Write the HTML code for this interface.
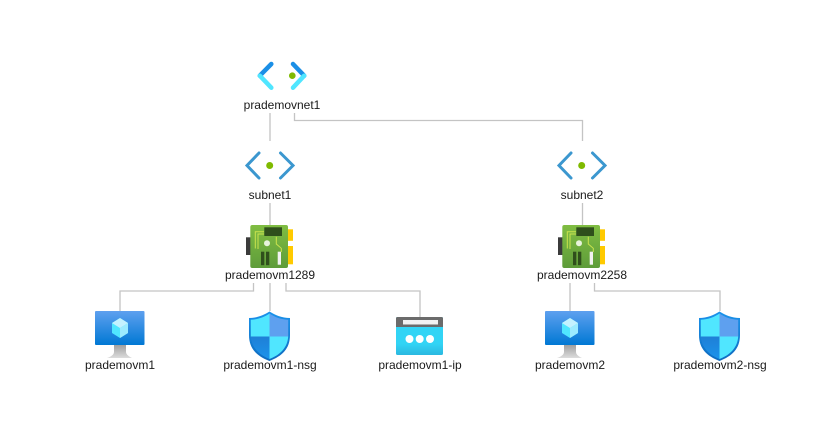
<!DOCTYPE html>
<html>
<head>
<meta charset="utf-8">
<style>
html,body{margin:0;padding:0;background:#fff}
svg{display:block}
text{font-family:"Liberation Sans",sans-serif;font-size:12px;fill:#1a1a1a;text-anchor:middle}
</style>
</head>
<body>
<svg width="815" height="431" viewBox="0 0 815 431" xmlns="http://www.w3.org/2000/svg">
<defs>
<linearGradient id="vmg" x1="0" y1="0" x2="0" y2="1"><stop offset="0" stop-color="#5ea0ef"/><stop offset="1" stop-color="#0078d4"/></linearGradient>
<linearGradient id="stand" x1="0" y1="0" x2="0" y2="1"><stop offset="0" stop-color="#a0a0a0"/><stop offset="1" stop-color="#dcdcdc"/></linearGradient>
<linearGradient id="nicg" x1="0" y1="0" x2="0" y2="1"><stop offset="0" stop-color="#80bd42"/><stop offset="1" stop-color="#5e9c3a"/></linearGradient>
<linearGradient id="shb" x1="0" y1="0" x2="0" y2="1"><stop offset="0" stop-color="#1b93eb"/><stop offset="1" stop-color="#0f6cc0"/></linearGradient>
<linearGradient id="shq" x1="0" y1="0" x2="0" y2="1"><stop offset="0" stop-color="#1f7fd6"/><stop offset="1" stop-color="#1b93eb"/></linearGradient>
<linearGradient id="ipg" x1="0" y1="0" x2="0" y2="1"><stop offset="0" stop-color="#32d4f5"/><stop offset="0.7" stop-color="#32d4f5"/><stop offset="1" stop-color="#2bb8e0"/></linearGradient>
<g id="subnet">
<path d="M-11 -12 L-23 0.500 L-11 13 M10.500 -12 L23 0.500 L10.500 13" fill="none" stroke="#3b97cf" stroke-width="3" stroke-linecap="round"/>
<circle cx="-0.300" cy="0.500" r="3.500" fill="#7fba00"/>
</g>
<g id="nic">
<rect x="-24" y="12.300" width="5" height="17.700" fill="#3b3b3b"/>
<rect x="18" y="4.300" width="5" height="11.500" fill="#ffca00"/>
<rect x="18" y="21" width="5" height="18.300" fill="#ffca00"/>
<rect x="-19.700" y="0" width="37.700" height="43" rx="2" fill="url(#nicg)"/>
<path d="M-14.700 23.500 V6.700 H-6 M-12 24 V9 H-6 M6.300 11.700 V19 L11.300 23.300 V27" fill="none" stroke="#cbe34e" stroke-width="1"/>
<rect x="-5.700" y="2.300" width="17.700" height="8.700" fill="#2f4f1c"/>
<circle cx="-3" cy="18.300" r="3" fill="#e8f3dc"/>
<rect x="-9" y="26.700" width="3.300" height="13.500" fill="#2f4f1c"/>
<rect x="-4" y="26.700" width="3.300" height="13.500" fill="#2f4f1c"/>
<rect x="7.700" y="26.700" width="3.300" height="13" fill="#f2f2f2"/>
</g>
<g id="vm">
<rect x="0" y="0" width="49.500" height="34" rx="1" fill="url(#vmg)"/>
<path d="M19 34 H31 V41 C31 44 35 46 37 47 H12 C15 46 19 44 19 41 Z" fill="url(#stand)"/>
<path d="M25 7 L33 12 V22 L25 27 L17 22 V12 Z" fill="#50e6ff"/>
<path d="M25 7 L33 12 L25 17 L17 12 Z" fill="#c3f1ff"/>
<path d="M25 17 L33 12 V22 L25 27 Z" fill="#9cebff"/>
</g>
<g id="shield">
<path d="M20.500 50 C8 45 0 38 0 24 V7 C8 7 15 4 20.500 0.500 C26 4 33 7 41 7 V24 C41 38 33 45 20.500 50 Z" fill="url(#shb)"/>
<path d="M20.500 2.500 C15.500 6 9 8.500 1.800 8.700 V25.500 H20.500 Z" fill="#50e6ff"/>
<path d="M20.500 2.500 C25.500 6 32 8.500 39.200 8.700 V25.500 H20.500 Z" fill="#5ea0ef"/>
<path d="M1.800 25.500 H20.500 V48 C9 43.500 2.500 36 1.800 25.500 Z" fill="url(#shq)"/>
<path d="M39.200 25.500 H20.500 V48 C32 43.500 38.500 36 39.200 25.500 Z" fill="#50e6ff"/>
</g>
</defs>

<g fill="none" stroke="#c4c4c4" stroke-width="1.300">
<path d="M270 113 V141"/>
<path d="M294.500 113 V120.500 H582.500 V141"/>
<path d="M270 203 V225"/>
<path d="M582.500 203 V225"/>
<path d="M253.500 283 V291 H120 V311"/>
<path d="M270 283 V311"/>
<path d="M286 283 V291 H420 V317"/>
<path d="M570 283 V311"/>
<path d="M594.500 283 V291 H720 V311"/>
</g>

<path d="M259.800 75.700 L271.300 64" fill="none" stroke="#1b8fe6" stroke-width="4.500" stroke-linecap="round"/>
<path d="M271.300 87.700 L259.800 75.700" fill="none" stroke="#50e6ff" stroke-width="4.500" stroke-linecap="round"/>
<path d="M304.200 75.700 L293 64" fill="none" stroke="#1b8fe6" stroke-width="4.500" stroke-linecap="round"/>
<path d="M293 87.700 L304.200 75.700" fill="none" stroke="#50e6ff" stroke-width="4.500" stroke-linecap="round"/>
<circle cx="292.300" cy="75.700" r="3.300" fill="#7fba00"/>

<use href="#subnet" x="270" y="165"/>
<use href="#subnet" x="582" y="165"/>
<use href="#nic" x="270" y="225"/>
<use href="#nic" x="582" y="225"/>
<use href="#vm" x="95" y="311"/>
<use href="#vm" x="545" y="311"/>
<use href="#shield" x="249" y="311"/>
<use href="#shield" x="699" y="311"/>

<rect x="396" y="317" width="47" height="38" rx="1.500" fill="url(#ipg)"/>
<path d="M396 327 V318.500 A1.500 1.500 0 0 1 397.500 317 H441.500 A1.500 1.500 0 0 1 443 318.500 V327 Z" fill="#6b6b6b"/>
<rect x="403" y="320" width="35" height="4.500" fill="#f2f2f2"/>
<circle cx="409.500" cy="339" r="4" fill="#fff"/>
<circle cx="419.700" cy="339" r="4" fill="#fff"/>
<circle cx="430" cy="339" r="4" fill="#fff"/>

<text x="282" y="109">prademovnet1</text>
<text x="270" y="199">subnet1</text>
<text x="582" y="199">subnet2</text>
<text x="270" y="279">prademovm1289</text>
<text x="582" y="279">prademovm2258</text>
<text x="120" y="369">prademovm1</text>
<text x="270" y="369">prademovm1-nsg</text>
<text x="420" y="369">prademovm1-ip</text>
<text x="570" y="369">prademovm2</text>
<text x="720" y="369">prademovm2-nsg</text>
</svg>
</body>
</html>
